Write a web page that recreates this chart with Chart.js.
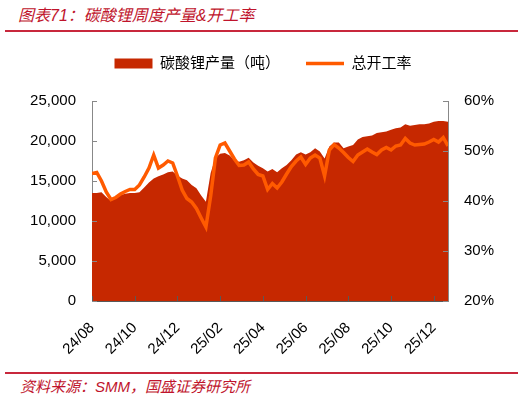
<!DOCTYPE html>
<html>
<head>
<meta charset="utf-8">
<script src="https://cdn.jsdelivr.net/npm/chart.js@4"></script>
<style>
  html, body { margin: 0; padding: 0; background: #fff; }
  body { width: 526px; height: 398px; position: relative; overflow: hidden;
         font-family: "Liberation Sans", "Noto Sans CJK SC", sans-serif; }
  .titulo { position: absolute; left: 18px; top: 2px; font-size: 16px; font-style: italic;
            color: #c0142c; white-space: nowrap; }
  .raya { position: absolute; left: 5px; width: 513px; height: 2px; background: #c8283c; }
  .fuente { position: absolute; left: 20px; top: 375px; font-size: 15px; font-style: italic;
            color: #c0142c; white-space: nowrap; }
  #wrap { position: absolute; left: 0; top: 30px; width: 526px; height: 338px; }
</style>
</head>
<body>
<div class="titulo">图表71：碳酸锂周度产量&amp;开工率</div>
<div class="raya" style="top:30px"></div>
<div id="wrap"><canvas id="chart-litio"></canvas></div>
<div class="raya" style="top:372px"></div>
<div class="fuente">资料来源：SMM，国盛证券研究所</div>

<script>
// ── DATOS (semanal, 24/08 → 26/01) ──
const etiquetasX = ['24/08', '24/10', '24/12', '25/02', '25/04', '25/06', '25/08', '25/10', '25/12'];
const pasoTicks  = 9; // una etiqueta cada 9 semanas

// 碳酸锂产量（吨）
const produccion = [
  13500, 13500, 13600, 13000, 12500, 12900, 13250, 13400, 13500, 13500,
  13600, 14200, 14800, 15300, 15600, 15800, 16100, 16200, 15700, 15300,
  15100, 14500, 14100, 13200, 12400, 16000, 17900, 18400, 18500, 18200,
  17600, 17400, 17600, 17900, 17300, 16900, 16600, 16200, 16500, 16100,
  16600, 17000, 17600, 18300, 18600, 18300, 18600, 19100, 18700, 17800,
  19300, 19800, 19800, 19100, 19300, 19500, 20200, 20500, 20600, 20700,
  21000, 21100, 21200, 21400, 21600, 21700, 22100, 21900, 22000, 22100,
  22100, 22200, 22400, 22500, 22500, 22400
];

// 总开工率 (%)
const tasa = [
  45.5, 45.7, 44.0, 41.8, 40.3, 40.7, 41.4, 41.9, 42.3, 42.3,
  43.2, 44.8, 46.6, 49.2, 46.6, 47.2, 48.0, 47.6, 45.0, 42.2,
  40.5, 39.8, 38.5, 36.6, 34.8, 41.0, 48.6, 51.2, 51.6, 50.0,
  48.4, 47.1, 47.2, 47.8, 46.4, 45.3, 45.0, 42.3, 43.5, 42.6,
  43.8, 45.4, 46.9, 48.0, 48.8, 47.3, 48.6, 49.2, 48.6, 45.0,
  50.2, 51.3, 50.6, 49.7, 48.7, 47.9, 49.2, 49.8, 50.4, 49.8,
  49.3, 50.2, 50.7, 50.2, 51.0, 51.2, 52.5, 51.6, 51.2, 51.3,
  51.4, 51.8, 52.3, 51.8, 52.7, 51.0
];

const ROJO    = '#c62800';
const NARANJA = '#ff5a00';
const FUENTE  = '"Liberation Sans", "Noto Sans CJK SC", sans-serif';

// ── HELPERS ──
// Marcas de eje hacia dentro (estilo Excel)
const marcasInternas = {
  id: 'marcasInternas',
  afterDatasetsDraw(chart) {
    const { ctx, chartArea: a, scales } = chart;
    ctx.save();
    ctx.lineWidth = 1;
    ctx.strokeStyle = '#595959';
    scales.x.ticks.forEach(t => {
      const px = Math.round(scales.x.getPixelForValue(t.value)) + 0.5;
      ctx.beginPath(); ctx.moveTo(px, a.bottom); ctx.lineTo(px, a.bottom - 5); ctx.stroke();
    });
    ctx.strokeStyle = '#888';
    scales.y.ticks.forEach(t => {
      const py = Math.round(scales.y.getPixelForValue(t.value)) + 0.5;
      ctx.beginPath(); ctx.moveTo(a.left, py); ctx.lineTo(a.left + 5, py); ctx.stroke();
    });
    scales.y1.ticks.forEach(t => {
      const py = Math.round(scales.y1.getPixelForValue(t.value)) + 0.5;
      ctx.beginPath(); ctx.moveTo(a.right, py); ctx.lineTo(a.right - 5, py); ctx.stroke();
    });
    ctx.restore();
  }
};

// Altura fija de la leyenda para colocar el área del gráfico
const alturaLeyenda = {
  id: 'alturaLeyenda',
  beforeInit(chart) {
    const fitOrig = chart.legend.fit;
    chart.legend.fit = function () { fitOrig.call(this); this.height = 71; };
  }
};

const ctx = document.getElementById('chart-litio').getContext('2d');
new Chart(ctx, {
  type: 'line',
  data: {
    datasets: [
      {
        label: '碳酸锂产量（吨）',
        data: produccion.map((v, i) => ({ x: i, y: v })),
        yAxisID: 'y',
        backgroundColor: ROJO,
        borderWidth: 0,
        pointRadius: 0,
        fill: 'origin',
        order: 2,
        colorLeyenda: ROJO,
      },
      {
        label: '总开工率',
        data: tasa.map((v, i) => ({ x: i, y: v })),
        yAxisID: 'y1',
        borderColor: NARANJA,
        borderWidth: 3.5,
        pointRadius: 0,
        fill: false,
        order: 1,
        colorLeyenda: NARANJA,
      },
    ]
  },
  options: {
    responsive: true,
    maintainAspectRatio: false,
    animation: false,
    layout: { padding: { left: 0, right: 0, top: 0, bottom: 0 } },
    plugins: {
      tooltip: { enabled: false },
      legend: {
        position: 'top',
        labels: {
          usePointStyle: true,
          pointStyleWidth: 38,
          boxHeight: 10,
          padding: 26,
          color: '#000',
          font: { family: FUENTE, size: 15 },
          generateLabels: chart => chart.data.datasets.map((d, i) => ({
            text: d.label,
            datasetIndex: i,
            fillStyle: d.colorLeyenda,
            strokeStyle: d.colorLeyenda,
            lineWidth: i ? 3.5 : 0,
            pointStyle: i ? 'line' : 'rect',
            hidden: false,
            fontColor: '#000',
          }))
        }
      }
    },
    scales: {
      x: {
        type: 'linear',
        min: 0,
        max: produccion.length - 1,
        grid: { display: false, drawTicks: false },
        border: { color: '#595959', width: 1 },
        afterBuildTicks: s => { s.ticks = etiquetasX.map((_, i) => ({ value: i * pasoTicks })); },
        afterFit: s => { s.height = 67; },
        ticks: {
          autoSkip: false,
          minRotation: 45,
          maxRotation: 45,
          padding: 18,
          color: '#000',
          font: { family: FUENTE, size: 15 },
          callback: v => etiquetasX[Math.round(v / pasoTicks)]
        }
      },
      y: {
        position: 'left',
        min: 0,
        max: 25000,
        grid: { display: false, drawTicks: false },
        border: { color: '#888', width: 1 },
        afterFit: s => { s.width = 92; },
        ticks: {
          stepSize: 5000,
          padding: 16,
          color: '#000',
          font: { family: FUENTE, size: 15 },
          callback: v => v.toLocaleString('en-US')
        }
      },
      y1: {
        position: 'right',
        min: 20,
        max: 60,
        grid: { display: false, drawTicks: false },
        border: { color: '#888', width: 1 },
        afterFit: s => { s.width = 78; },
        ticks: {
          stepSize: 10,
          padding: 16,
          color: '#000',
          font: { family: FUENTE, size: 15 },
          callback: v => v + '%'
        }
      }
    }
  },
  plugins: [marcasInternas, alturaLeyenda]
});
</script>
</body>
</html>
